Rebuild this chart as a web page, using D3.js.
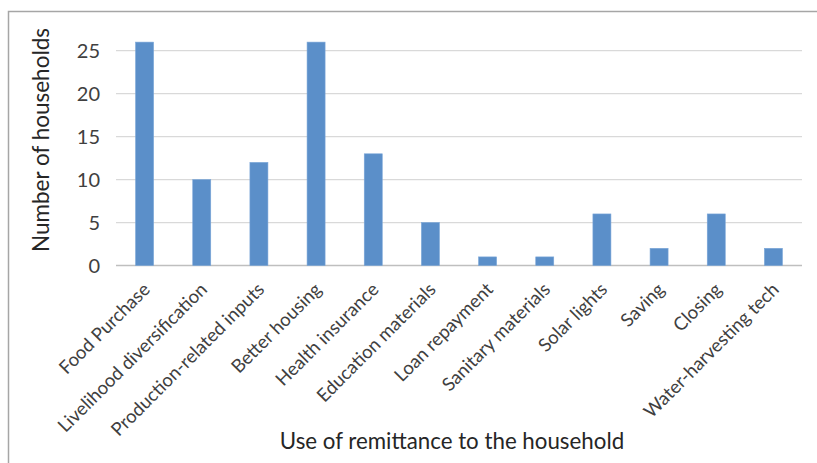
<!DOCTYPE html>
<html><head><meta charset="utf-8">
<script src="https://cdn.jsdelivr.net/npm/d3@7"></script>
<style>body{margin:0;background:#fff;} svg{display:block;}</style>
</head><body>
<svg id="c" width="817" height="463"></svg>
<script>
const categories = ["Food Purchase","Livelihood diversification","Production-related inputs","Better housing","Health insurance","Education materials","Loan repayment","Sanitary materials","Solar lights","Saving","Closing","Water-harvesting tech"];
const values = [26,10,12,26,13,5,1,1,6,2,6,2];
const yTicks = [0,5,10,15,20,25];

(function(){
const svg = d3.select("#c");
const font = "Lato, 'Open Sans', sans-serif";
const mLeft = 116, mRight = 802, mTop = 50.7, mBottom = 265.5;

// frame
svg.append("rect").attr("x",8.5).attr("y",11.5).attr("width",830).attr("height",480)
  .attr("fill","none").attr("stroke","#a6a6a6").attr("stroke-width",1.5);

const x = d3.scaleBand().domain(categories).range([mLeft,mRight]).paddingInner(0.685).paddingOuter(0.3425);
const y = d3.scaleLinear().domain([0,25]).range([mBottom,mTop]);

// gridlines
svg.append("g").selectAll("line").data(yTicks).join("line")
  .attr("x1",mLeft).attr("x2",mRight).attr("y1",d=>y(d)).attr("y2",d=>y(d))
  .attr("stroke",d=>d===0?"#bfbfbf":"#d9d9d9").attr("stroke-width",1.3);

// y labels
svg.append("g").selectAll("text").data(yTicks).join("text")
  .attr("x",100).attr("y",d=>y(d)).attr("dy","0.36em").attr("text-anchor","end")
  .attr("font-family",font).attr("font-size",20).attr("fill","#404040").text(d=>d);

// bars
svg.append("g").selectAll("rect").data(values).join("rect")
  .attr("x",(d,i)=>x(categories[i])).attr("width",x.bandwidth())
  .attr("y",d=>y(d)).attr("height",d=>y(0)-y(d))
  .attr("fill","#5b8fc9").attr("stroke","#7aa6d8").attr("stroke-width",0.6);

// x labels
svg.append("g").selectAll("text").data(categories).join("text")
  .attr("transform",d=>`translate(${x(d)+x.bandwidth()/2+2},${286}) rotate(-45)`)
  .attr("text-anchor","end").attr("dy","0.35em")
  .attr("font-family",font).attr("font-size",18.5).attr("fill","#404040").text(d=>d);

// axis titles
svg.append("text").attr("transform",`translate(49,140) rotate(-90)`)
  .attr("text-anchor","middle").attr("font-family",font).attr("font-size",22.5).attr("fill","#262626")
  .text("Number of households");
svg.append("text").attr("x",452).attr("y",449).attr("text-anchor","middle")
  .attr("font-family",font).attr("font-size",22.3).attr("fill","#262626")
  .text("Use of remittance to the household");
})();
</script>
</body></html>
